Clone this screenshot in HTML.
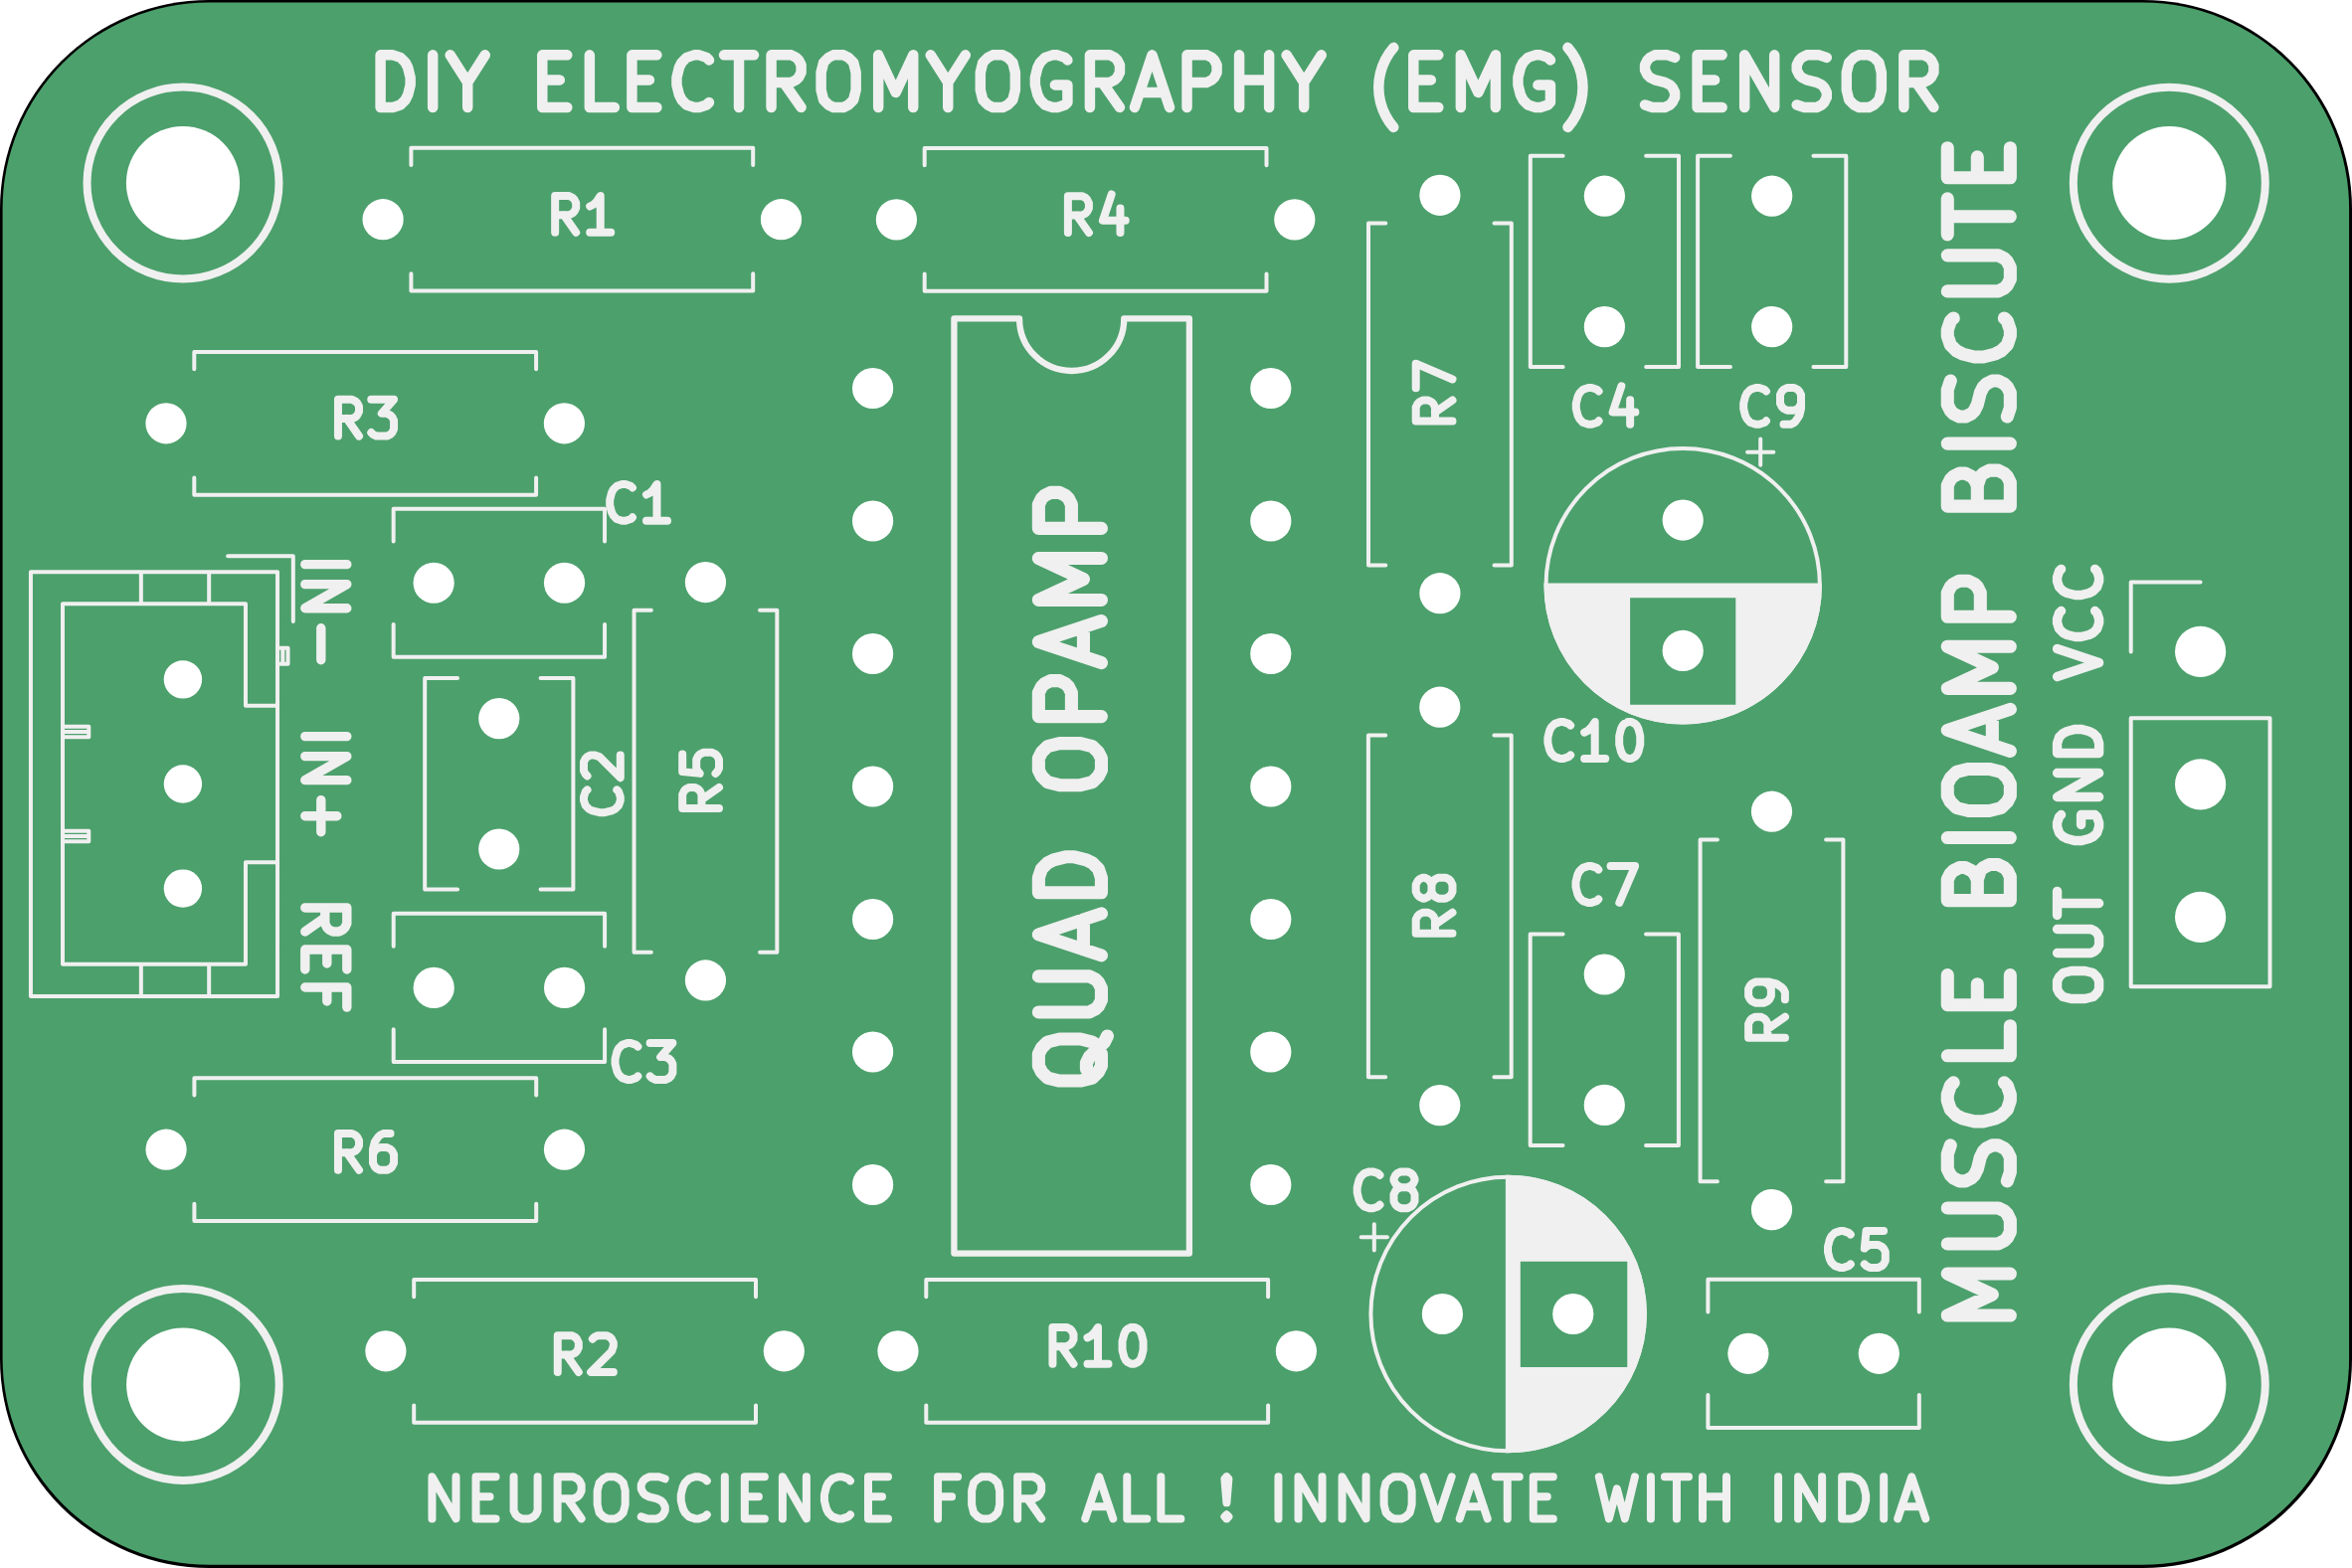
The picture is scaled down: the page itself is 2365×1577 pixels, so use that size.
<!DOCTYPE html>
<html lang="en">
<head>
<meta charset="utf-8">
<title>Muscle BioAmp Biscute - DIY Electromyography (EMG) Sensor PCB</title>
<style>
html,body{margin:0;padding:0;background:#ffffff;font-family:"Liberation Sans",sans-serif;}
body{width:2365px;height:1577px;overflow:hidden;}
svg{display:block;}
</style>
</head>
<body>
<svg width="2365" height="1577" viewBox="0 0 2365 1577">
<title>Muscle BioAmp Biscute PCB - DIY Electromyography (EMG) Sensor</title>
<rect x="0" y="0" width="2365" height="1577" fill="#ffffff"/>
<rect x="0" y="0" width="2365" height="1577" rx="210" ry="210" fill="#000000"/>
<rect x="2.6" y="2.6" width="2359.5" height="1571.1" rx="207.4" ry="207.4" fill="#4ca06c"/>
<g fill="none" stroke="#f0f0f0" stroke-linecap="round" stroke-linejoin="round">
<path d="M413.40 166.10L413.40 148.80L757.20 148.80L757.20 166.10M413.40 275.30L413.40 292.60L757.20 292.60L757.20 275.30M929.70 166.30L929.70 149.00L1273.50 149.00L1273.50 166.30M929.70 275.50L929.70 292.80L1273.50 292.80L1273.50 275.50M195.30 371.20L195.30 353.90L539.10 353.90L539.10 371.20M195.30 480.40L195.30 497.70L539.10 497.70L539.10 480.40M195.40 1101.60L195.40 1084.30L539.20 1084.30L539.20 1101.60M195.40 1210.80L195.40 1228.10L539.20 1228.10L539.20 1210.80M416.20 1304.20L416.20 1286.90L760.00 1286.90L760.00 1304.20M416.20 1413.40L416.20 1430.70L760.00 1430.70L760.00 1413.40M931.30 1304.20L931.30 1286.90L1275.10 1286.90L1275.10 1304.20M931.30 1413.40L931.30 1430.70L1275.10 1430.70L1275.10 1413.40M1393.30 224.60L1376.00 224.60L1376.00 568.40L1393.30 568.40M1502.50 224.60L1519.80 224.60L1519.80 568.40L1502.50 568.40M1393.20 739.50L1375.90 739.50L1375.90 1083.30L1393.20 1083.30M1502.40 739.50L1519.70 739.50L1519.70 1083.30L1502.40 1083.30M654.85 613.85L637.55 613.85L637.55 957.65L654.85 957.65M764.05 613.85L781.35 613.85L781.35 957.65L764.05 957.65M1726.90 844.50L1709.60 844.50L1709.60 1188.30L1726.90 1188.30M1836.10 844.50L1853.40 844.50L1853.40 1188.30L1836.10 1188.30M395.65 544.50L395.65 511.65L608.05 511.65L608.05 544.50M395.65 628.00L395.65 660.85L608.05 660.85L608.05 628.00M395.70 951.65L395.70 918.80L608.10 918.80L608.10 951.65M395.70 1035.15L395.70 1068.00L608.10 1068.00L608.10 1035.15M1717.40 1319.55L1717.40 1286.70L1929.80 1286.70L1929.80 1319.55M1717.40 1403.05L1717.40 1435.90L1929.80 1435.90L1929.80 1403.05M460.05 682.10L427.20 682.10L427.20 894.50L460.05 894.50M543.55 682.10L576.40 682.10L576.40 894.50L543.55 894.50M1571.65 156.70L1538.80 156.70L1538.80 369.10L1571.65 369.10M1655.15 156.70L1688.00 156.70L1688.00 369.10L1655.15 369.10M1739.95 156.70L1707.10 156.70L1707.10 369.10L1739.95 369.10M1823.45 156.70L1856.30 156.70L1856.30 369.10L1823.45 369.10M1571.55 939.50L1538.70 939.50L1538.70 1151.90L1571.55 1151.90M1655.05 939.50L1687.90 939.50L1687.90 1151.90L1655.05 1151.90M1757.05 454.70L1783.35 454.70M1770.20 441.55L1770.20 467.85M1368.65 1244.30L1394.95 1244.30M1381.80 1231.15L1381.80 1257.45M279.03 575.13L279.03 1001.91L30.95 1001.91L30.95 575.13L279.03 575.13M279.03 709.68L246.97 709.68L246.97 607.19L63.01 607.19L63.01 969.85L246.97 969.85L246.97 867.36L279.03 867.36M210.18 575.13L210.18 607.19M141.85 575.13L141.85 607.19M210.18 1001.91L210.18 969.85M141.85 1001.91L141.85 969.85M294.80 625.06L294.80 559.36L229.10 559.36M279.03 667.63L289.55 667.63L289.55 651.86L279.03 651.86M284.29 667.63L284.29 651.86M63.01 730.70L89.29 730.70L89.29 741.22L63.01 741.22M63.01 735.96L89.29 735.96M63.01 835.82L89.29 835.82L89.29 846.34L63.01 846.34M63.01 841.08L89.29 841.08M2142.70 722.15L2282.50 722.15L2282.50 992.31L2142.70 992.31L2142.70 722.15M2212.60 585.50L2142.70 585.50L2142.70 655.40" stroke-width="4"/>
<path d="M1025.05 320.40 L959.40 320.40 L959.40 1260.60 L1195.90 1260.60 L1195.90 320.40 L1130.25 320.40 A52.60 52.60 0 0 1 1025.05 320.40" stroke-width="6.3"/>
<path d="M382.61 107.93L382.61 55.37L395.12 55.37L402.63 57.87L407.64 62.88L410.14 67.88L412.64 77.90L412.64 85.40L410.14 95.42L407.64 100.42L402.63 105.43L395.12 107.93L382.61 107.93M435.17 107.93L435.17 55.37M470.21 82.90L470.21 107.93M452.69 55.37L470.21 82.90L487.73 55.37M545.29 80.40L562.81 80.40M570.32 107.93L545.29 107.93L545.29 55.37L570.32 55.37M617.88 107.93L592.85 107.93L592.85 55.37M635.40 80.40L652.92 80.40M660.43 107.93L635.40 107.93L635.40 55.37L660.43 55.37M712.99 102.92L710.48 105.43L702.97 107.93L697.97 107.93L690.46 105.43L685.45 100.42L682.95 95.42L680.45 85.40L680.45 77.90L682.95 67.88L685.45 62.88L690.46 57.87L697.97 55.37L702.97 55.37L710.48 57.87L712.99 60.38M728.00 55.37L758.04 55.37M743.02 107.93L743.02 55.37M805.59 107.93L788.07 82.90M775.56 107.93L775.56 55.37L795.58 55.37L800.59 57.87L803.09 60.38L805.59 65.38L805.59 72.89L803.09 77.90L800.59 80.40L795.58 82.90L775.56 82.90M838.13 55.37L848.14 55.37L853.15 57.87L858.15 62.88L860.65 72.89L860.65 90.41L858.15 100.42L853.15 105.43L848.14 107.93L838.13 107.93L833.12 105.43L828.12 100.42L825.61 90.41L825.61 72.89L828.12 62.88L833.12 57.87L838.13 55.37M883.18 107.93L883.18 55.37L900.70 92.91L918.22 55.37L918.22 107.93M953.26 82.90L953.26 107.93M935.74 55.37L953.26 82.90L970.78 55.37M998.31 55.37L1008.32 55.37L1013.33 57.87L1018.33 62.88L1020.84 72.89L1020.84 90.41L1018.33 100.42L1013.33 105.43L1008.32 107.93L998.31 107.93L993.31 105.43L988.30 100.42L985.80 90.41L985.80 72.89L988.30 62.88L993.31 57.87L998.31 55.37M1073.40 60.38L1070.89 57.87L1063.39 55.37L1058.38 55.37L1050.87 57.87L1045.87 62.88L1043.36 67.88L1040.86 77.90L1040.86 85.40L1043.36 95.42L1045.87 100.42L1050.87 105.43L1058.38 107.93L1063.39 107.93L1070.89 105.43L1073.40 102.92L1073.40 85.40L1060.88 85.40M1125.96 107.93L1108.44 82.90M1095.92 107.93L1095.92 55.37L1115.95 55.37L1120.95 57.87L1123.45 60.38L1125.96 65.38L1125.96 72.89L1123.45 77.90L1120.95 80.40L1115.95 82.90L1095.92 82.90M1145.98 92.91L1171.01 92.91M1140.97 107.93L1158.49 55.37L1176.01 107.93M1193.53 107.93L1193.53 55.37L1213.56 55.37L1218.56 57.87L1221.07 60.38L1223.57 65.38L1223.57 72.89L1221.07 77.90L1218.56 80.40L1213.56 82.90L1193.53 82.90M1246.09 107.93L1246.09 55.37M1246.09 80.40L1276.13 80.40M1276.13 107.93L1276.13 55.37M1311.17 82.90L1311.17 107.93M1293.65 55.37L1311.17 82.90L1328.69 55.37M1401.27 47.86L1396.82 53.62L1393.09 59.87L1390.13 66.52L1387.99 73.48L1386.69 80.64L1386.25 87.91L1386.69 95.17L1387.99 102.34L1390.13 109.29L1393.09 115.94L1396.82 122.19L1401.27 127.95M1421.29 80.40L1438.81 80.40M1446.32 107.93L1421.29 107.93L1421.29 55.37L1446.32 55.37M1468.85 107.93L1468.85 55.37L1486.37 92.91L1503.89 55.37L1503.89 107.93M1558.95 60.38L1556.45 57.87L1548.94 55.37L1543.93 55.37L1536.43 57.87L1531.42 62.88L1528.92 67.88L1526.41 77.90L1526.41 85.40L1528.92 95.42L1531.42 100.42L1536.43 105.43L1543.93 107.93L1548.94 107.93L1556.45 105.43L1558.95 102.92L1558.95 85.40L1546.44 85.40M1576.47 47.86L1580.92 53.62L1584.65 59.87L1587.61 66.52L1589.75 73.48L1591.05 80.64L1591.49 87.91L1591.05 95.17L1589.75 102.34L1587.61 109.29L1584.65 115.94L1580.92 122.19L1576.47 127.95M1654.06 105.43L1661.57 107.93L1674.08 107.93L1679.09 105.43L1681.59 102.92L1684.09 97.92L1684.09 92.91L1681.59 87.91L1679.09 85.40L1674.08 82.90L1664.07 80.40L1659.07 77.90L1656.56 75.39L1654.06 70.39L1654.06 65.38L1656.56 60.38L1659.07 57.87L1664.07 55.37L1676.59 55.37L1684.09 57.87M1706.62 80.40L1724.14 80.40M1731.65 107.93L1706.62 107.93L1706.62 55.37L1731.65 55.37M1754.17 107.93L1754.17 55.37L1784.21 107.93L1784.21 55.37M1806.73 105.43L1814.24 107.93L1826.76 107.93L1831.76 105.43L1834.27 102.92L1836.77 97.92L1836.77 92.91L1834.27 87.91L1831.76 85.40L1826.76 82.90L1816.75 80.40L1811.74 77.90L1809.24 75.39L1806.73 70.39L1806.73 65.38L1809.24 60.38L1811.74 57.87L1816.75 55.37L1829.26 55.37L1836.77 57.87M1869.31 55.37L1879.32 55.37L1884.32 57.87L1889.33 62.88L1891.83 72.89L1891.83 90.41L1889.33 100.42L1884.32 105.43L1879.32 107.93L1869.31 107.93L1864.30 105.43L1859.29 100.42L1856.79 90.41L1856.79 72.89L1859.29 62.88L1864.30 57.87L1869.31 55.37M1944.39 107.93L1926.87 82.90M1914.36 107.93L1914.36 55.37L1934.38 55.37L1939.39 57.87L1941.89 60.38L1944.39 65.38L1944.39 72.89L1941.89 77.90L1939.39 80.40L1934.38 82.90L1914.36 82.90" stroke-width="10.50"/>
<path d="M434.46 1527.38L434.46 1485.32L458.49 1527.38L458.49 1485.32M478.51 1505.35L492.53 1505.35M498.53 1527.38L478.51 1527.38L478.51 1485.32L498.53 1485.32M516.55 1485.32L516.55 1519.37L518.56 1523.37L520.56 1525.37L524.56 1527.38L532.57 1527.38L536.58 1525.37L538.58 1523.37L540.58 1519.37L540.58 1485.32M584.64 1527.38L570.62 1507.35M560.61 1527.38L560.61 1485.32L576.63 1485.32L580.63 1487.33L582.63 1489.33L584.64 1493.33L584.64 1499.34L582.63 1503.35L580.63 1505.35L576.63 1507.35L560.61 1507.35M610.67 1485.32L618.68 1485.32L622.68 1487.33L626.69 1491.33L628.69 1499.34L628.69 1513.36L626.69 1521.37L622.68 1525.37L618.68 1527.38L610.67 1527.38L606.66 1525.37L602.66 1521.37L600.65 1513.36L600.65 1499.34L602.66 1491.33L606.66 1487.33L610.67 1485.32M644.71 1525.37L650.71 1527.38L660.73 1527.38L664.73 1525.37L666.73 1523.37L668.74 1519.37L668.74 1515.36L666.73 1511.36L664.73 1509.35L660.73 1507.35L652.72 1505.35L648.71 1503.35L646.71 1501.34L644.71 1497.34L644.71 1493.33L646.71 1489.33L648.71 1487.33L652.72 1485.32L662.73 1485.32L668.74 1487.33M710.79 1523.37L708.78 1525.37L702.78 1527.38L698.77 1527.38L692.76 1525.37L688.76 1521.37L686.76 1517.36L684.75 1509.35L684.75 1503.35L686.76 1495.34L688.76 1491.33L692.76 1487.33L698.77 1485.32L702.78 1485.32L708.78 1487.33L710.79 1489.33M728.81 1527.38L728.81 1485.32M748.83 1505.35L762.85 1505.35M768.85 1527.38L748.83 1527.38L748.83 1485.32L768.85 1485.32M786.88 1527.38L786.88 1485.32L810.90 1527.38L810.90 1485.32M854.96 1523.37L852.95 1525.37L846.95 1527.38L842.94 1527.38L836.94 1525.37L832.93 1521.37L830.93 1517.36L828.93 1509.35L828.93 1503.35L830.93 1495.34L832.93 1491.33L836.94 1487.33L842.94 1485.32L846.95 1485.32L852.95 1487.33L854.96 1489.33M872.98 1505.35L887.00 1505.35M893.00 1527.38L872.98 1527.38L872.98 1485.32L893.00 1485.32M957.08 1505.35L943.06 1505.35M943.06 1527.38L943.06 1485.32L963.09 1485.32M987.11 1485.32L995.12 1485.32L999.13 1487.33L1003.13 1491.33L1005.14 1499.34L1005.14 1513.36L1003.13 1521.37L999.13 1525.37L995.12 1527.38L987.11 1527.38L983.11 1525.37L979.10 1521.37L977.10 1513.36L977.10 1499.34L979.10 1491.33L983.11 1487.33L987.11 1485.32M1047.19 1527.38L1033.17 1507.35M1023.16 1527.38L1023.16 1485.32L1039.18 1485.32L1043.18 1487.33L1045.18 1489.33L1047.19 1493.33L1047.19 1499.34L1045.18 1503.35L1043.18 1505.35L1039.18 1507.35L1023.16 1507.35M1095.24 1515.36L1115.27 1515.36M1091.24 1527.38L1105.25 1485.32L1119.27 1527.38M1153.31 1527.38L1133.29 1527.38L1133.29 1485.32M1187.35 1527.38L1167.33 1527.38L1167.33 1485.32M1233.41 1523.37L1235.41 1525.37L1233.41 1527.38L1231.40 1525.37L1233.41 1523.37L1233.41 1527.38M1233.41 1511.36L1231.40 1487.33L1233.41 1485.32L1235.41 1487.33L1233.41 1511.36L1233.41 1485.32M1285.47 1527.38L1285.47 1485.32M1305.49 1527.38L1305.49 1485.32L1329.52 1527.38L1329.52 1485.32M1349.55 1527.38L1349.55 1485.32L1373.57 1527.38L1373.57 1485.32M1401.61 1485.32L1409.62 1485.32L1413.62 1487.33L1417.63 1491.33L1419.63 1499.34L1419.63 1513.36L1417.63 1521.37L1413.62 1525.37L1409.62 1527.38L1401.61 1527.38L1397.60 1525.37L1393.60 1521.37L1391.60 1513.36L1391.60 1499.34L1393.60 1491.33L1397.60 1487.33L1401.61 1485.32M1431.64 1485.32L1445.66 1527.38L1459.68 1485.32M1471.69 1515.36L1491.71 1515.36M1467.69 1527.38L1481.70 1485.32L1495.72 1527.38M1503.73 1485.32L1527.76 1485.32M1515.74 1527.38L1515.74 1485.32M1541.77 1505.35L1555.79 1505.35M1561.80 1527.38L1541.77 1527.38L1541.77 1485.32L1561.80 1485.32M1607.85 1485.32L1617.86 1527.38L1625.87 1497.34L1633.88 1527.38L1643.90 1485.32M1659.91 1527.38L1659.91 1485.32M1673.93 1485.32L1697.96 1485.32M1685.95 1527.38L1685.95 1485.32M1711.98 1527.38L1711.98 1485.32M1711.98 1505.35L1736.00 1505.35M1736.00 1527.38L1736.00 1485.32M1788.07 1527.38L1788.07 1485.32M1808.09 1527.38L1808.09 1485.32L1832.12 1527.38L1832.12 1485.32M1852.14 1527.38L1852.14 1485.32L1862.15 1485.32L1868.16 1487.33L1872.17 1491.33L1874.17 1495.34L1876.17 1503.35L1876.17 1509.35L1874.17 1517.36L1872.17 1521.37L1868.16 1525.37L1862.15 1527.38L1852.14 1527.38M1894.19 1527.38L1894.19 1485.32M1912.21 1515.36L1932.24 1515.36M1908.21 1527.38L1922.23 1485.32L1936.24 1527.38" stroke-width="8.00"/>
<path d="M2021.34 1323.05L1958.26 1323.05L2003.32 1302.03L1958.26 1281.01L2021.34 1281.01M1958.26 1250.97L2009.32 1250.97L2015.33 1247.97L2018.33 1244.96L2021.34 1238.96L2021.34 1226.94L2018.33 1220.94L2015.33 1217.93L2009.32 1214.93L1958.26 1214.93M2018.33 1187.90L2021.34 1178.89L2021.34 1163.88L2018.33 1157.87L2015.33 1154.87L2009.32 1151.86L2003.32 1151.86L1997.31 1154.87L1994.31 1157.87L1991.30 1163.88L1988.30 1175.89L1985.29 1181.89L1982.29 1184.90L1976.28 1187.90L1970.28 1187.90L1964.27 1184.90L1961.27 1181.89L1958.26 1175.89L1958.26 1160.87L1961.27 1151.86M2015.33 1088.79L2018.33 1091.80L2021.34 1100.81L2021.34 1106.81L2018.33 1115.82L2012.33 1121.83L2006.32 1124.83L1994.31 1127.84L1985.29 1127.84L1973.28 1124.83L1967.27 1121.83L1961.27 1115.82L1958.26 1106.81L1958.26 1100.81L1961.27 1091.80L1964.27 1088.79M2021.34 1031.73L2021.34 1061.76L1958.26 1061.76M1988.30 1010.70L1988.30 989.68M2021.34 980.67L2021.34 1010.70L1958.26 1010.70L1958.26 980.67M1988.30 884.56L1991.30 875.55L1994.31 872.55L2000.31 869.55L2009.32 869.55L2015.33 872.55L2018.33 875.55L2021.34 881.56L2021.34 905.59L1958.26 905.59L1958.26 884.56L1961.27 878.56L1964.27 875.55L1970.28 872.55L1976.28 872.55L1982.29 875.55L1985.29 878.56L1988.30 884.56L1988.30 905.59M2021.34 842.52L1958.26 842.52M1958.26 800.47L1958.26 788.46L1961.27 782.45L1967.27 776.44L1979.29 773.44L2000.31 773.44L2012.33 776.44L2018.33 782.45L2021.34 788.46L2021.34 800.47L2018.33 806.48L2012.33 812.49L2000.31 815.49L1979.29 815.49L1967.27 812.49L1961.27 806.48L1958.26 800.47M2003.32 749.41L2003.32 719.38M2021.34 755.42L1958.26 734.40L2021.34 713.38M2021.34 692.35L1958.26 692.35L2003.32 671.33L1958.26 650.30L2021.34 650.30M2021.34 620.27L1958.26 620.27L1958.26 596.25L1961.27 590.24L1964.27 587.24L1970.28 584.23L1979.29 584.23L1985.29 587.24L1988.30 590.24L1991.30 596.25L1991.30 620.27M1988.30 488.12L1991.30 479.11L1994.31 476.11L2000.31 473.11L2009.32 473.11L2015.33 476.11L2018.33 479.11L2021.34 485.12L2021.34 509.15L1958.26 509.15L1958.26 488.12L1961.27 482.12L1964.27 479.11L1970.28 476.11L1976.28 476.11L1982.29 479.11L1985.29 482.12L1988.30 488.12L1988.30 509.15M2021.34 446.08L1958.26 446.08M2018.33 419.05L2021.34 410.04L2021.34 395.02L2018.33 389.01L2015.33 386.01L2009.32 383.01L2003.32 383.01L1997.31 386.01L1994.31 389.01L1991.30 395.02L1988.30 407.03L1985.29 413.04L1982.29 416.04L1976.28 419.05L1970.28 419.05L1964.27 416.04L1961.27 413.04L1958.26 407.03L1958.26 392.02L1961.27 383.01M2015.33 319.94L2018.33 322.94L2021.34 331.95L2021.34 337.96L2018.33 346.97L2012.33 352.97L2006.32 355.98L1994.31 358.98L1985.29 358.98L1973.28 355.98L1967.27 352.97L1961.27 346.97L1958.26 337.96L1958.26 331.95L1961.27 322.94L1964.27 319.94M1958.26 292.91L2009.32 292.91L2015.33 289.90L2018.33 286.90L2021.34 280.89L2021.34 268.88L2018.33 262.87L2015.33 259.87L2009.32 256.87L1958.26 256.87M1958.26 235.84L1958.26 199.80M2021.34 217.82L1958.26 217.82M1988.30 178.78L1988.30 157.76M2021.34 148.75L2021.34 178.78L1958.26 178.78L1958.26 148.75" stroke-width="13.10"/>
<path d="M1113.44 1041.98L1110.44 1047.99L1104.43 1053.99L1095.42 1063.00L1092.42 1069.01L1092.42 1075.02M1107.44 1072.01L1104.43 1078.02L1098.43 1084.03L1086.41 1087.03L1065.39 1087.03L1053.38 1084.03L1047.37 1078.02L1044.37 1072.01L1044.37 1060.00L1047.37 1053.99L1053.38 1047.99L1065.39 1044.98L1086.41 1044.98L1098.43 1047.99L1104.43 1053.99L1107.44 1060.00L1107.44 1072.01M1044.37 1017.95L1095.42 1017.95L1101.43 1014.95L1104.43 1011.95L1107.44 1005.94L1107.44 993.93L1104.43 987.92L1101.43 984.92L1095.42 981.91L1044.37 981.91M1089.42 954.88L1089.42 924.85M1107.44 960.89L1044.37 939.87L1107.44 918.84M1107.44 897.82L1044.37 897.82L1044.37 882.80L1047.37 873.79L1053.38 867.79L1059.38 864.78L1071.39 861.78L1080.41 861.78L1092.42 864.78L1098.43 867.79L1104.43 873.79L1107.44 882.80L1107.44 897.82M1044.37 774.68L1044.37 762.67L1047.37 756.66L1053.38 750.66L1065.39 747.65L1086.41 747.65L1098.43 750.66L1104.43 756.66L1107.44 762.67L1107.44 774.68L1104.43 780.69L1098.43 786.70L1086.41 789.70L1065.39 789.70L1053.38 786.70L1047.37 780.69L1044.37 774.68M1107.44 720.62L1044.37 720.62L1044.37 696.60L1047.37 690.59L1050.37 687.59L1056.38 684.58L1065.39 684.58L1071.39 687.59L1074.40 690.59L1077.40 696.60L1077.40 720.62M1089.42 660.56L1089.42 630.52M1107.44 666.56L1044.37 645.54L1107.44 624.52M1107.44 603.49L1044.37 603.49L1089.42 582.47L1044.37 561.45L1107.44 561.45M1107.44 531.41L1044.37 531.41L1044.37 507.39L1047.37 501.38L1050.37 498.38L1056.38 495.37L1065.39 495.37L1071.39 498.38L1074.40 501.38L1077.40 507.39L1077.40 531.41" stroke-width="13.10"/>
<path d="M2068.57 680.56L2110.62 666.55L2068.57 652.53M2106.62 614.49L2108.62 616.49L2110.62 622.50L2110.62 626.50L2108.62 632.51L2104.62 636.51L2100.61 638.51L2092.60 640.52L2086.60 640.52L2078.59 638.51L2074.58 636.51L2070.58 632.51L2068.57 626.50L2068.57 622.50L2070.58 616.49L2072.58 614.49M2106.62 572.44L2108.62 574.44L2110.62 580.45L2110.62 584.45L2108.62 590.46L2104.62 594.46L2100.61 596.46L2092.60 598.47L2086.60 598.47L2078.59 596.46L2074.58 594.46L2070.58 590.46L2068.57 584.45L2068.57 580.45L2070.58 574.44L2072.58 572.44" stroke-width="9.40"/>
<path d="M2072.58 819.54L2070.58 821.54L2068.57 827.55L2068.57 831.55L2070.58 837.56L2074.58 841.56L2078.59 843.56L2086.60 845.57L2092.60 845.57L2100.61 843.56L2104.62 841.56L2108.62 837.56L2110.62 831.55L2110.62 827.55L2108.62 821.54L2106.62 819.54L2092.60 819.54L2092.60 829.55M2110.62 801.51L2068.57 801.51L2110.62 777.49L2068.57 777.49M2110.62 757.46L2068.57 757.46L2068.57 747.45L2070.58 741.44L2074.58 737.44L2078.59 735.44L2086.60 733.43L2092.60 733.43L2100.61 735.44L2104.62 737.44L2108.62 741.44L2110.62 747.45L2110.62 757.46" stroke-width="9.40"/>
<path d="M2068.57 994.55L2068.57 986.54L2070.58 982.54L2074.58 978.53L2082.59 976.53L2096.61 976.53L2104.62 978.53L2108.62 982.54L2110.62 986.54L2110.62 994.55L2108.62 998.56L2104.62 1002.56L2096.61 1004.56L2082.59 1004.56L2074.58 1002.56L2070.58 998.56L2068.57 994.55M2068.57 958.51L2102.62 958.51L2106.62 956.51L2108.62 954.50L2110.62 950.50L2110.62 942.49L2108.62 938.49L2106.62 936.48L2102.62 934.48L2068.57 934.48M2068.57 920.46L2068.57 896.44M2110.62 908.45L2068.57 908.45" stroke-width="9.40"/>
<path d="M306.78 567.64L348.82 567.64M306.78 587.67L348.82 587.67L306.78 611.70L348.82 611.70M322.79 631.72L322.79 663.76" stroke-width="9.40"/>
<path d="M306.78 740.59L348.82 740.59M306.78 760.62L348.82 760.62L306.78 784.65L348.82 784.65M322.79 804.67L322.79 836.71M306.78 820.69L338.81 820.69" stroke-width="9.40"/>
<path d="M306.78 936.97L326.80 922.95M306.78 912.94L348.82 912.94L348.82 928.96L346.82 932.96L344.82 934.97L340.82 936.97L334.81 936.97L330.80 934.97L328.80 932.96L326.80 928.96L326.80 912.94M328.80 954.99L328.80 969.01M306.78 975.01L306.78 954.99L348.82 954.99L348.82 975.01M328.80 1007.05L328.80 993.04M306.78 993.04L348.82 993.04L348.82 1013.06" stroke-width="9.40"/>
<path d="M579.19 233.80L566.92 216.28M558.16 233.80L558.16 197.00L572.18 197.00L575.69 198.75L577.44 200.50L579.19 204.01L579.19 209.27L577.44 212.77L575.69 214.52L572.18 216.28L558.16 216.28M614.24 233.80L593.21 233.80M603.72 233.80L603.72 197.00L600.22 202.26L596.71 205.76L593.21 207.51" stroke-width="8.00"/>
<path d="M1094.91 234.00L1082.65 216.48M1073.89 234.00L1073.89 197.20L1087.90 197.20L1091.41 198.95L1093.16 200.70L1094.91 204.21L1094.91 209.47L1093.16 212.97L1091.41 214.72L1087.90 216.48L1073.89 216.48M1126.46 209.47L1126.46 234.00M1117.70 195.45L1108.93 221.73L1131.71 221.73" stroke-width="8.00"/>
<path d="M360.99 438.60L348.72 421.08M339.96 438.60L339.96 401.80L353.98 401.80L357.49 403.55L359.24 405.30L360.99 408.81L360.99 414.07L359.24 417.57L357.49 419.32L353.98 421.08L339.96 421.08M373.26 401.80L396.04 401.80L383.77 415.82L389.03 415.82L392.53 417.57L394.29 419.32L396.04 422.83L396.04 431.59L394.29 435.10L392.53 436.85L389.03 438.60L378.51 438.60L375.01 436.85L373.26 435.10" stroke-width="8.00"/>
<path d="M360.99 1176.80L348.72 1159.28M339.96 1176.80L339.96 1140.00L353.98 1140.00L357.49 1141.75L359.24 1143.50L360.99 1147.01L360.99 1152.27L359.24 1155.77L357.49 1157.52L353.98 1159.28L339.96 1159.28M392.53 1140.00L385.52 1140.00L382.02 1141.75L380.27 1143.50L376.76 1148.76L375.01 1155.77L375.01 1169.79L376.76 1173.30L378.51 1175.05L382.02 1176.80L389.03 1176.80L392.53 1175.05L394.29 1173.30L396.04 1169.79L396.04 1161.03L394.29 1157.52L392.53 1155.77L389.03 1154.02L382.02 1154.02L378.51 1155.77L376.76 1157.52L375.01 1161.03" stroke-width="8.00"/>
<path d="M581.79 1380.00L569.52 1362.48M560.76 1380.00L560.76 1343.20L574.78 1343.20L578.29 1344.95L580.04 1346.70L581.79 1350.21L581.79 1355.47L580.04 1358.97L578.29 1360.72L574.78 1362.48L560.76 1362.48M595.81 1346.70L597.56 1344.95L601.07 1343.20L609.83 1343.20L613.33 1344.95L615.09 1346.70L616.84 1350.21L616.84 1353.71L615.09 1358.97L594.06 1380.00L616.84 1380.00" stroke-width="8.00"/>
<path d="M1079.47 1371.70L1067.20 1354.18M1058.44 1371.70L1058.44 1334.90L1072.46 1334.90L1075.96 1336.65L1077.71 1338.40L1079.47 1341.91L1079.47 1347.17L1077.71 1350.67L1075.96 1352.42L1072.46 1354.18L1058.44 1354.18M1114.51 1371.70L1093.49 1371.70M1104.00 1371.70L1104.00 1334.90L1100.50 1340.16L1096.99 1343.66L1093.49 1345.41M1137.30 1334.90L1140.80 1334.90L1144.30 1336.65L1146.06 1338.40L1147.81 1341.91L1149.56 1348.92L1149.56 1357.68L1147.81 1364.69L1146.06 1368.20L1144.30 1369.95L1140.80 1371.70L1137.30 1371.70L1133.79 1369.95L1132.04 1368.20L1130.29 1364.69L1128.53 1357.68L1128.53 1348.92L1130.29 1341.91L1132.04 1338.40L1133.79 1336.65L1137.30 1334.90" stroke-width="8.00"/>
<path d="M1460.50 402.49L1442.98 414.75M1460.50 423.51L1423.70 423.51L1423.70 409.50L1425.45 405.99L1427.20 404.24L1430.71 402.49L1435.97 402.49L1439.47 404.24L1441.22 405.99L1442.98 409.50L1442.98 423.51M1423.70 390.22L1423.70 365.69L1460.50 381.46" stroke-width="8.00"/>
<path d="M1460.50 917.71L1442.98 929.98M1460.50 938.74L1423.70 938.74L1423.70 924.72L1425.45 921.21L1427.20 919.46L1430.71 917.71L1435.97 917.71L1439.47 919.46L1441.22 921.21L1442.98 924.72L1442.98 938.74M1439.47 896.68L1437.72 900.19L1435.97 901.94L1432.46 903.69L1430.71 903.69L1427.20 901.94L1425.45 900.19L1423.70 896.68L1423.70 889.67L1425.45 886.17L1427.20 884.41L1430.71 882.66L1432.46 882.66L1435.97 884.41L1437.72 886.17L1439.47 889.67L1439.47 896.68L1441.22 900.19L1442.98 901.94L1446.48 903.69L1453.49 903.69L1457.00 901.94L1458.75 900.19L1460.50 896.68L1460.50 889.67L1458.75 886.17L1457.00 884.41L1453.49 882.66L1446.48 882.66L1442.98 884.41L1441.22 886.17L1439.47 889.67" stroke-width="8.00"/>
<path d="M723.00 791.91L705.48 804.18M723.00 812.94L686.20 812.94L686.20 798.92L687.95 795.41L689.70 793.66L693.21 791.91L698.47 791.91L701.97 793.66L703.72 795.41L705.48 798.92L705.48 812.94M686.20 758.61L686.20 776.14L703.72 777.89L701.97 776.14L700.22 772.63L700.22 763.87L701.97 760.37L703.72 758.61L707.23 756.86L715.99 756.86L719.50 758.61L721.25 760.37L723.00 763.87L723.00 772.63L721.25 776.14L719.50 777.89" stroke-width="8.00"/>
<path d="M1794.90 1022.66L1777.38 1034.93M1794.90 1043.69L1758.10 1043.69L1758.10 1029.67L1759.85 1026.16L1761.60 1024.41L1765.11 1022.66L1770.37 1022.66L1773.87 1024.41L1775.62 1026.16L1777.38 1029.67L1777.38 1043.69M1794.90 1005.14L1794.90 998.13L1793.15 994.62L1791.40 992.87L1786.14 989.36L1779.13 987.61L1765.11 987.61L1761.60 989.36L1759.85 991.12L1758.10 994.62L1758.10 1001.63L1759.85 1005.14L1761.60 1006.89L1765.11 1008.64L1773.87 1008.64L1777.38 1006.89L1779.13 1005.14L1780.88 1001.63L1780.88 994.62L1779.13 991.12L1777.38 989.36L1773.87 987.61" stroke-width="8.00"/>
<path d="M620.30 794.43L622.05 796.19L623.80 801.44L623.80 804.95L622.05 810.20L618.54 813.71L615.04 815.46L608.03 817.21L602.77 817.21L595.76 815.46L592.26 813.71L588.75 810.20L587.00 804.95L587.00 801.44L588.75 796.19L590.50 794.43M590.50 780.41L588.75 778.66L587.00 775.16L587.00 766.40L588.75 762.89L590.50 761.14L594.01 759.39L597.51 759.39L602.77 761.14L623.80 782.17L623.80 759.39" stroke-width="8.00"/>
<path d="M635.97 520.30L634.21 522.05L628.96 523.80L625.45 523.80L620.20 522.05L616.69 518.54L614.94 515.04L613.19 508.03L613.19 502.77L614.94 495.76L616.69 492.26L620.20 488.75L625.45 487.00L628.96 487.00L634.21 488.75L635.97 490.50M671.01 523.80L649.99 523.80M660.50 523.80L660.50 487.00L657.00 492.26L653.49 495.76L649.99 497.51" stroke-width="8.00"/>
<path d="M641.37 1082.40L639.61 1084.15L634.36 1085.90L630.85 1085.90L625.60 1084.15L622.09 1080.64L620.34 1077.14L618.59 1070.13L618.59 1064.87L620.34 1057.86L622.09 1054.36L625.60 1050.85L630.85 1049.10L634.36 1049.10L639.61 1050.85L641.37 1052.60M653.63 1049.10L676.41 1049.10L664.15 1063.12L669.40 1063.12L672.91 1064.87L674.66 1066.62L676.41 1070.13L676.41 1078.89L674.66 1082.40L672.91 1084.15L669.40 1085.90L658.89 1085.90L655.39 1084.15L653.63 1082.40" stroke-width="8.00"/>
<path d="M1607.59 423.30L1605.84 425.05L1600.58 426.80L1597.08 426.80L1591.82 425.05L1588.31 421.54L1586.56 418.04L1584.81 411.03L1584.81 405.77L1586.56 398.76L1588.31 395.26L1591.82 391.75L1597.08 390.00L1600.58 390.00L1605.84 391.75L1607.59 393.50M1639.13 402.27L1639.13 426.80M1630.37 388.25L1621.61 414.53L1644.39 414.53" stroke-width="8.00"/>
<path d="M1775.97 423.30L1774.21 425.05L1768.96 426.80L1765.45 426.80L1760.20 425.05L1756.69 421.54L1754.94 418.04L1753.19 411.03L1753.19 405.77L1754.94 398.76L1756.69 395.26L1760.20 391.75L1765.45 390.00L1768.96 390.00L1774.21 391.75L1775.97 393.50M1793.49 426.80L1800.50 426.80L1804.00 425.05L1805.76 423.30L1809.26 418.04L1811.01 411.03L1811.01 397.01L1809.26 393.50L1807.51 391.75L1804.00 390.00L1797.00 390.00L1793.49 391.75L1791.74 393.50L1789.99 397.01L1789.99 405.77L1791.74 409.28L1793.49 411.03L1797.00 412.78L1804.00 412.78L1807.51 411.03L1809.26 409.28L1811.01 405.77" stroke-width="8.00"/>
<path d="M1607.29 904.40L1605.54 906.15L1600.28 907.90L1596.78 907.90L1591.52 906.15L1588.01 902.64L1586.26 899.14L1584.51 892.13L1584.51 886.87L1586.26 879.86L1588.01 876.36L1591.52 872.85L1596.78 871.10L1600.28 871.10L1605.54 872.85L1607.29 874.60M1619.56 871.10L1644.09 871.10L1628.32 907.90" stroke-width="8.00"/>
<path d="M1579.14 759.40L1577.39 761.15L1572.13 762.90L1568.63 762.90L1563.37 761.15L1559.87 757.64L1558.11 754.14L1556.36 747.13L1556.36 741.87L1558.11 734.86L1559.87 731.36L1563.37 727.85L1568.63 726.10L1572.13 726.10L1577.39 727.85L1579.14 729.60M1614.19 762.90L1593.16 762.90M1603.68 762.90L1603.68 726.10L1600.17 731.36L1596.67 734.86L1593.16 736.61M1636.97 726.10L1640.48 726.10L1643.98 727.85L1645.73 729.60L1647.49 733.11L1649.24 740.12L1649.24 748.88L1647.49 755.89L1645.73 759.40L1643.98 761.15L1640.48 762.90L1636.97 762.90L1633.47 761.15L1631.71 759.40L1629.96 755.89L1628.21 748.88L1628.21 740.12L1629.96 733.11L1631.71 729.60L1633.47 727.85L1636.97 726.10" stroke-width="8.00"/>
<path d="M1387.47 1211.70L1385.71 1213.45L1380.46 1215.20L1376.95 1215.20L1371.70 1213.45L1368.19 1209.94L1366.44 1206.44L1364.69 1199.43L1364.69 1194.17L1366.44 1187.16L1368.19 1183.66L1371.70 1180.15L1376.95 1178.40L1380.46 1178.40L1385.71 1180.15L1387.47 1181.90M1408.50 1194.17L1404.99 1192.42L1403.24 1190.67L1401.49 1187.16L1401.49 1185.41L1403.24 1181.90L1404.99 1180.15L1408.50 1178.40L1415.50 1178.40L1419.01 1180.15L1420.76 1181.90L1422.51 1185.41L1422.51 1187.16L1420.76 1190.67L1419.01 1192.42L1415.50 1194.17L1408.50 1194.17L1404.99 1195.92L1403.24 1197.68L1401.49 1201.18L1401.49 1208.19L1403.24 1211.70L1404.99 1213.45L1408.50 1215.20L1415.50 1215.20L1419.01 1213.45L1420.76 1211.70L1422.51 1208.19L1422.51 1201.18L1420.76 1197.68L1419.01 1195.92L1415.50 1194.17" stroke-width="8.00"/>
<path d="M1860.77 1271.40L1859.01 1273.15L1853.76 1274.90L1850.25 1274.90L1845.00 1273.15L1841.49 1269.64L1839.74 1266.14L1837.99 1259.13L1837.99 1253.87L1839.74 1246.86L1841.49 1243.36L1845.00 1239.85L1850.25 1238.10L1853.76 1238.10L1859.01 1239.85L1860.77 1241.60M1894.06 1238.10L1876.54 1238.10L1874.79 1255.62L1876.54 1253.87L1880.04 1252.12L1888.80 1252.12L1892.31 1253.87L1894.06 1255.62L1895.81 1259.13L1895.81 1267.89L1894.06 1271.40L1892.31 1273.15L1888.80 1274.90L1880.04 1274.90L1876.54 1273.15L1874.79 1271.40" stroke-width="8.00"/>
</g>
<circle cx="1692.20" cy="588.75" r="137.70" fill="none" stroke="#f0f0f0" stroke-width="4"/>
<path fill="#f0f0f0" fill-rule="evenodd" d="M1831.88 586.55 A139.70 139.70 0 1 1 1552.52 586.55 Z M1639.10 601.25 h106.20 v107.60 h-106.20 Z"/>
<circle cx="1516.10" cy="1321.50" r="137.70" fill="none" stroke="#f0f0f0" stroke-width="4"/>
<path fill="#f0f0f0" fill-rule="evenodd" d="M1513.90 1181.82 A139.70 139.70 0 1 1 1513.90 1461.18 Z M1528.80 1268.80 h107.50 v106.10 h-107.50 Z"/>
<circle cx="184.00" cy="184.10" r="96.5" fill="none" stroke="#f0f0f0" stroke-width="8"/>
<circle cx="2181.30" cy="184.20" r="96.5" fill="none" stroke="#f0f0f0" stroke-width="8"/>
<circle cx="184.20" cy="1392.60" r="96.5" fill="none" stroke="#f0f0f0" stroke-width="8"/>
<circle cx="2181.30" cy="1392.60" r="96.5" fill="none" stroke="#f0f0f0" stroke-width="8"/>
<g fill="#ffffff"><circle cx="385.10" cy="220.70" r="20.60"/><circle cx="785.50" cy="220.70" r="20.60"/><circle cx="901.40" cy="220.90" r="20.60"/><circle cx="1301.80" cy="220.90" r="20.60"/><circle cx="167.00" cy="425.80" r="20.60"/><circle cx="567.40" cy="425.80" r="20.60"/><circle cx="167.10" cy="1156.20" r="20.60"/><circle cx="567.50" cy="1156.20" r="20.60"/><circle cx="387.90" cy="1358.80" r="20.60"/><circle cx="788.30" cy="1358.80" r="20.60"/><circle cx="903.00" cy="1358.80" r="20.60"/><circle cx="1303.40" cy="1358.80" r="20.60"/><circle cx="1447.90" cy="196.30" r="20.60"/><circle cx="1447.90" cy="596.70" r="20.60"/><circle cx="1447.80" cy="711.20" r="20.60"/><circle cx="1447.80" cy="1111.60" r="20.60"/><circle cx="709.45" cy="585.55" r="20.60"/><circle cx="709.45" cy="985.95" r="20.60"/><circle cx="1781.50" cy="816.20" r="20.60"/><circle cx="1781.50" cy="1216.60" r="20.60"/><circle cx="436.15" cy="586.25" r="20.60"/><circle cx="567.55" cy="586.25" r="20.60"/><circle cx="436.20" cy="993.40" r="20.60"/><circle cx="567.60" cy="993.40" r="20.60"/><circle cx="1757.90" cy="1361.30" r="20.60"/><circle cx="1889.30" cy="1361.30" r="20.60"/><circle cx="501.80" cy="722.60" r="20.60"/><circle cx="501.80" cy="854.00" r="20.60"/><circle cx="1613.40" cy="197.20" r="20.60"/><circle cx="1613.40" cy="328.60" r="20.60"/><circle cx="1781.70" cy="197.20" r="20.60"/><circle cx="1781.70" cy="328.60" r="20.60"/><circle cx="1613.30" cy="980.00" r="20.60"/><circle cx="1613.30" cy="1111.40" r="20.60"/><circle cx="1692.20" cy="523.05" r="20.60"/><circle cx="1692.20" cy="654.45" r="20.60"/><circle cx="1450.40" cy="1321.50" r="20.60"/><circle cx="1581.80" cy="1321.50" r="20.60"/><circle cx="877.60" cy="390.50" r="20.60"/><circle cx="1277.80" cy="390.50" r="20.60"/><circle cx="877.60" cy="524.00" r="20.60"/><circle cx="1277.80" cy="524.00" r="20.60"/><circle cx="877.60" cy="657.50" r="20.60"/><circle cx="1277.80" cy="657.50" r="20.60"/><circle cx="877.60" cy="791.00" r="20.60"/><circle cx="1277.80" cy="791.00" r="20.60"/><circle cx="877.60" cy="924.50" r="20.60"/><circle cx="1277.80" cy="924.50" r="20.60"/><circle cx="877.60" cy="1058.00" r="20.60"/><circle cx="1277.80" cy="1058.00" r="20.60"/><circle cx="877.60" cy="1191.50" r="20.60"/><circle cx="1277.80" cy="1191.50" r="20.60"/><circle cx="183.90" cy="683.40" r="19.20"/><circle cx="183.90" cy="788.50" r="19.20"/><circle cx="183.90" cy="893.60" r="19.20"/><circle cx="2212.60" cy="655.40" r="25.60"/><circle cx="2212.60" cy="788.90" r="25.60"/><circle cx="2212.60" cy="922.40" r="25.60"/><circle cx="184.00" cy="184.10" r="57.10"/><circle cx="2181.30" cy="184.20" r="57.10"/><circle cx="184.20" cy="1392.60" r="57.10"/><circle cx="2181.30" cy="1392.60" r="57.10"/></g>
</svg>
</body>
</html>
